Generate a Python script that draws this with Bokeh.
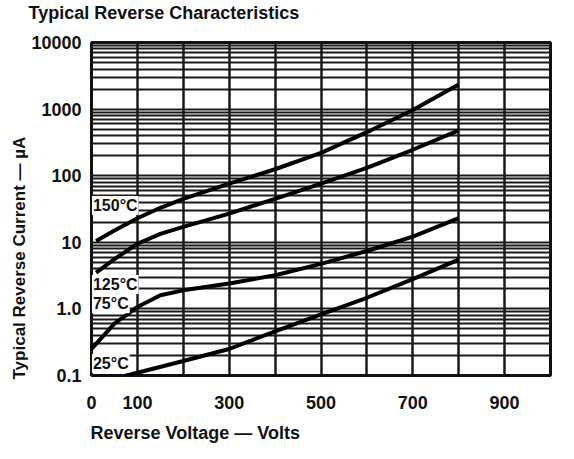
from bokeh.plotting import figure
from bokeh.models import FixedTicker, Title, Label
from bokeh.embed import file_html
from bokeh.resources import INLINE

FONT = "Liberation Sans"

# data (reverse voltage in V, current in uA)
v150 = [10, 50, 100, 150, 200, 300, 400, 500, 600, 700, 800]
i150 = [10.5, 15, 23, 33, 45, 76, 125, 220, 450, 970, 2350]
v125 = [10, 50, 100, 150, 200, 300, 400, 500, 600, 700, 800]
i125 = [3.5, 5.6, 9.5, 13.4, 17, 27, 45, 76, 131, 245, 480]
v75 = [0, 50, 100, 150, 200, 300, 400, 500, 600, 700, 800]
i75 = [0.25, 0.6, 1.07, 1.6, 1.9, 2.4, 3.2, 4.75, 7.4, 12.2, 23]
v25 = [75, 100, 200, 300, 400, 500, 600, 700, 800]
i25 = [0.1, 0.11, 0.165, 0.25, 0.46, 0.83, 1.47, 2.8, 5.5]

curve_labels = ["150°C", "125°C", "75°C", "25°C"]
label_v = [1, 1, 1, 1]
label_i = [35.7, 2.32, 1.2, 0.151]

x_ticks = [0, 100, 300, 500, 700, 900]
y_ticks = [0.1, 1, 10, 100, 1000, 10000]
y_tick_labels = ["0.1", "1.0", "10", "100", "1000", "10000"]
x_grid = [100, 200, 300, 400, 500, 600, 700, 800, 900]
y_grid = [m * d for d in [0.1, 1, 10, 100, 1000] for m in range(1, 10)] + [10000]

p = figure(frame_width=459, frame_height=333, y_axis_type="log", x_range=(0, 1000), y_range=(0.1, 10000),
           output_backend="svg", toolbar_location=None,
           min_border_left=91, min_border_right=8, min_border_top=42, min_border_bottom=68)
p.background_fill_color = "white"
p.border_fill_color = "white"
p.outline_line_color = "#111111"
p.outline_line_width = 3

p.xgrid.ticker = FixedTicker(ticks=x_grid)
p.ygrid.ticker = FixedTicker(ticks=y_grid)
p.xgrid.grid_line_color = "#1a1a1a"
p.xgrid.grid_line_width = 2.5
p.ygrid.grid_line_color = "#1a1a1a"
p.ygrid.grid_line_width = 2
p.xgrid.minor_grid_line_color = None
p.ygrid.minor_grid_line_color = None

for ax in (p.xaxis[0], p.yaxis[0]):
    ax.axis_line_color = None
    ax.major_tick_line_color = None
    ax.minor_tick_line_color = None
    ax.major_label_text_font = FONT
    ax.major_label_text_font_style = "bold"
    ax.major_label_text_font_size = "18px"
    ax.major_label_text_color = "#111111"

p.xaxis.ticker = FixedTicker(ticks=x_ticks)
p.yaxis.ticker = FixedTicker(ticks=y_ticks)
p.yaxis.major_label_overrides = {t: s for t, s in zip(y_ticks, y_tick_labels)}
p.xaxis.major_label_standoff = 14
p.yaxis.major_label_standoff = 4

for xs, ys in [(v150, i150), (v125, i125), (v75, i75), (v25, i25)]:
    p.line(xs, ys, line_color="black", line_width=4)

for t, xv, yv in zip(curve_labels, label_v, label_i):
    p.add_layout(Label(x=xv, y=yv, text=t, text_font=FONT, text_font_style="bold",
                       text_font_size="16px", text_baseline="middle", text_color="#111111",
                       background_fill_color="white", padding=1))

p.title.text = "Typical Reverse Characteristics\n "
p.title.align = "left"
p.title.offset = -63
p.title.text_font = FONT
p.title.text_font_style = "bold"
p.title.text_font_size = "18px"
p.title.text_color = "#111111"
p.title.standoff = 0

xlab = Title(text="Reverse Voltage — Volts", align="left", offset=-1,
             text_font=FONT, text_font_style="bold", text_font_size="18px",
             text_color="#111111", standoff=19)
p.add_layout(xlab, "below")

ylab = Title(text="Typical Reverse Current — µA", align="left", offset=-4,
             text_font=FONT, text_font_style="bold", text_font_size="17px",
             text_color="#111111", standoff=0)
p.add_layout(ylab, "left")

open("out.html", "w").write(file_html(p, INLINE))
